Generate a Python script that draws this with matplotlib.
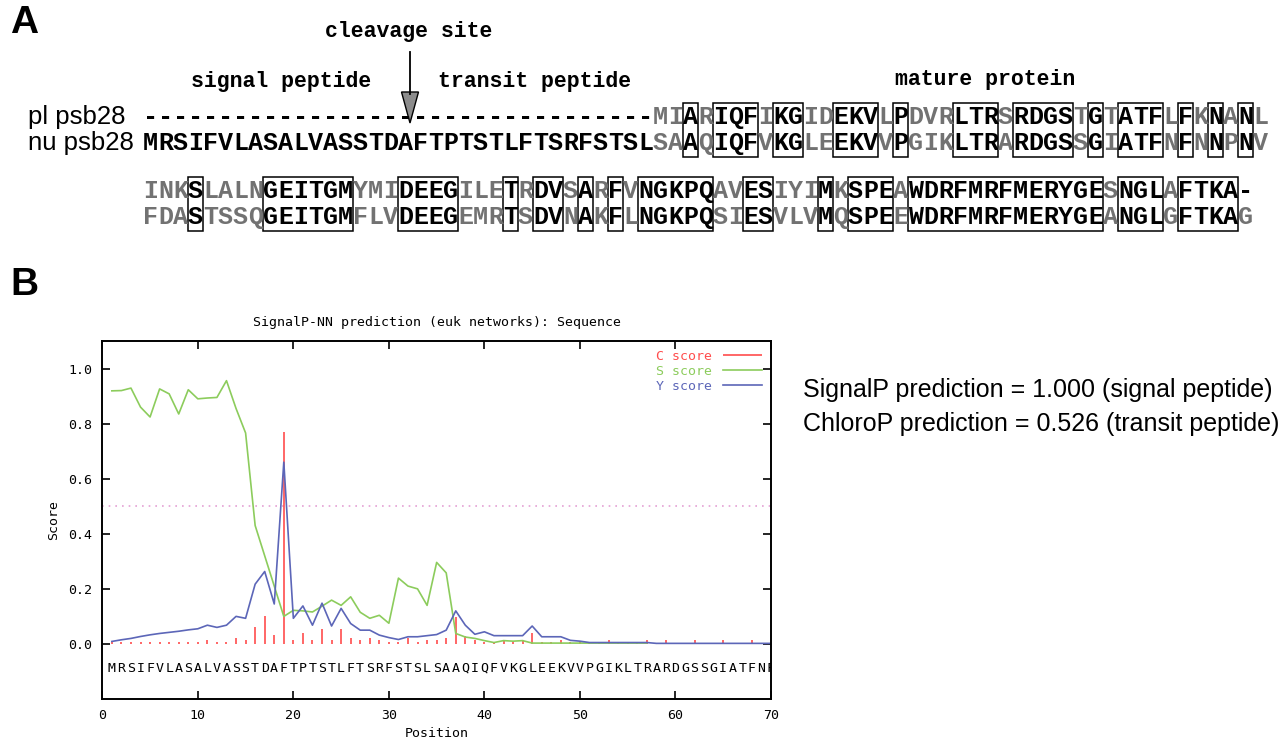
import matplotlib
matplotlib.use('Agg')
import matplotlib.pyplot as plt
import numpy as np
from matplotlib.patches import Rectangle, Polygon

# ---- panel A: alignment of plastid vs nuclear psb28 ----
presequence_len = 34
row1_pl = "-" * 34 + "MIARIQFIKGIDEKVLPDVRLTRSRDGSTGTATFLFKNANL"
row1_nu = "MRSIFVLASALVASSTDAFTPTSTLFTSRFSTSL" + "SAAQIQFVKGLEEKVVPGIKLTRARDGSSGIATFNFNNPNV"
row2_pl = "INKSLALNGEITGMYMIDEEGILETRDVSARFVNGKPQAVESIYIMKSPEAWDRFMRFMERYGESNGLAFTKA-"
row2_nu = "FDASTSSQGEITGMFLVDEEGEMRTSDVNAKFLNGKPQSIESVLVMQSPEEWDRFMRFMERYGEANGLGFTKAG"
row_labels = ["pl psb28", "nu psb28"]
region_labels = ["signal peptide", "transit peptide", "mature protein"]

# ---- panel B: SignalP-NN scores ----
positions = np.arange(1, 71)
c_score = [0.007, 0.007, 0.007, 0.007, 0.007, 0.007, 0.007, 0.007, 0.007, 0.007,
           0.015, 0.007, 0.007, 0.020, 0.013, 0.062, 0.100, 0.032, 0.770, 0.013,
           0.038, 0.013, 0.056, 0.013, 0.056, 0.023, 0.013, 0.020, 0.013, 0.007,
           0.007, 0.020, 0.007, 0.013, 0.016, 0.020, 0.096, 0.028, 0.013, 0.007,
           0.005, 0.011, 0.007, 0.013, 0.041, 0.007, 0.007, 0.013, 0.007, 0.007,
           0.005, 0.005, 0.013, 0.005, 0.005, 0.005, 0.013, 0.005, 0.013, 0.005,
           0.005, 0.013, 0.005, 0.005, 0.013, 0.005, 0.005, 0.013, 0.005, 0.005]
s_score = [0.919, 0.920, 0.929, 0.860, 0.824, 0.926, 0.908, 0.835, 0.923, 0.890,
           0.893, 0.895, 0.956, 0.855, 0.766, 0.430, 0.320, 0.210, 0.100, 0.122,
           0.120, 0.116, 0.137, 0.159, 0.140, 0.171, 0.115, 0.093, 0.104, 0.075,
           0.239, 0.210, 0.200, 0.140, 0.296, 0.258, 0.038, 0.025, 0.020, 0.012,
           0.005, 0.012, 0.010, 0.012, 0.003, 0.003, 0.003, 0.003, 0.003, 0.003,
           0.003, 0.003, 0.003, 0.003, 0.003, 0.003, 0.003]
y_score = [0.009, 0.015, 0.020, 0.027, 0.033, 0.038, 0.042, 0.046, 0.051, 0.055,
           0.068, 0.060, 0.068, 0.100, 0.093, 0.217, 0.263, 0.145, 0.660, 0.093,
           0.138, 0.068, 0.148, 0.065, 0.129, 0.074, 0.050, 0.050, 0.032, 0.023,
           0.016, 0.026, 0.026, 0.030, 0.034, 0.050, 0.120, 0.068, 0.035, 0.044,
           0.030, 0.030, 0.030, 0.030, 0.065, 0.026, 0.026, 0.026, 0.013, 0.010,
           0.005, 0.005, 0.005, 0.005, 0.005, 0.005, 0.005, 0.002, 0.002, 0.002,
           0.002, 0.002, 0.002, 0.002, 0.002, 0.002, 0.002, 0.002, 0.002, 0.002]
plot_sequence = row1_nu[:70]
pred_lines = ["SignalP prediction = 1.000 (signal peptide)",
              "ChloroP prediction = 0.526 (transit peptide)"]

W, H = 1284, 743
fig = plt.figure(figsize=(W / 100, H / 100), dpi=100)

# overlay in pixel coords for the alignment panel and labels
ov = fig.add_axes([0, 0, 1, 1])
ov.set_xlim(0, W)
ov.set_ylim(H, 0)
ov.axis('off')

SANS = 'Liberation Sans'
MONO = 'Liberation Mono'
GRAY = '#727272'

ov.text(10, 23, "A", fontsize=28, fontweight='bold', family=SANS, va='center')
ov.text(10, 285, "B", fontsize=28, fontweight='bold', family=SANS, va='center')

# region headers
ov.text(409, 31, "cleavage site", fontsize=15.5, fontweight='bold', family=MONO,
        ha='center', va='center')
ov.text(281, 82, region_labels[0], fontsize=15.5, fontweight='bold', family=MONO,
        ha='center', va='center')
ov.text(535, 82, region_labels[1], fontsize=15.5, fontweight='bold', family=MONO,
        ha='center', va='center')
ov.text(985, 80, region_labels[2], fontsize=15.5, fontweight='bold', family=MONO,
        ha='center', va='center')
ov.plot([410, 410], [52, 94], color='black', lw=1.3)
ov.add_patch(Polygon([[401.5, 92], [418.5, 92], [410, 123]], closed=True,
                     facecolor='#8c8c8c', edgecolor='black', lw=1))

x0, cw = 143, 15.0
rows = [(row1_pl, row1_nu, 117, 143, True), (row2_pl, row2_nu, 191, 217, False)]
for pl, nu, ypl, ynu, first in rows:
    same = [a == b and a != '-' for a, b in zip(pl, nu)]
    # identity boxes
    i = 0
    while i < len(same):
        if same[i]:
            j = i
            while j + 1 < len(same) and same[j + 1]:
                j += 1
            ov.add_patch(Rectangle((x0 + cw * i, ypl - 14), cw * (j - i + 1),
                                   (ynu - ypl) + 28, fill=False,
                                   edgecolor='black', lw=1.1))
            i = j + 1
        else:
            i += 1
    for k, (a, b) in enumerate(zip(pl, nu)):
        xc = x0 + cw * (k + 0.5)
        ca = 'black' if (same[k] or a == '-') else GRAY
        cb = 'black' if (same[k] or (first and k < presequence_len)) else GRAY
        ov.text(xc, ypl, a, fontsize=18, fontweight='bold', family=MONO,
                color=ca, ha='center', va='center')
        ov.text(xc, ynu, b, fontsize=18, fontweight='bold', family=MONO,
                color=cb, ha='center', va='center')
    if first:
        ov.text(28, ypl, row_labels[0], fontsize=18.5, family=SANS, va='center')
        ov.text(28, ynu, row_labels[1], fontsize=18.5, family=SANS, va='center')

ov.text(803, 390, pred_lines[0], fontsize=18, family=SANS, va='center')
ov.text(803, 424, pred_lines[1], fontsize=18, family=SANS, va='center')

# ---- SignalP plot ----
GP = 'DejaVu Sans Mono'
RED, GREEN, BLUE = '#ff4d4d', '#8ccc5c', '#5c66b8'
left, right, top, bottom = 102.3, 771, 341, 699
ax = fig.add_axes([left / W, 1 - bottom / H, (right - left) / W, (bottom - top) / H])
ax.set_xlim(0, 70)
ax.set_ylim(-0.2, 1.1)

ax.axhline(0.5, color='#e4a0d4', lw=1.2, ls=(0, (1, 3)))
ax.vlines(positions, 0, c_score, color=RED, lw=1.2, label='C score')
ax.plot(positions[:len(s_score)], s_score, color=GREEN, lw=1.2, label='S score')
ax.plot(positions, y_score, color=BLUE, lw=1.2, label='Y score')

for p, ch in zip(positions, plot_sequence):
    ax.text(p, -0.088, ch, fontsize=9.5, family=GP, ha='center', va='center',
            clip_on=True)

ax.set_xticks(range(0, 71, 10))
ax.set_yticks(np.arange(0, 1.01, 0.2))
ax.set_yticklabels([f"{v:.1f}" for v in np.arange(0, 1.01, 0.2)])
ax.tick_params(direction='in', top=True, right=True, length=6, width=1.2,
               labelsize=9.5, pad=7)
for lab in ax.get_xticklabels() + ax.get_yticklabels():
    lab.set_family(GP)
for sp in ax.spines.values():
    sp.set_linewidth(1.4)

ax.set_title("SignalP-NN prediction (euk networks): Sequence", family=GP,
             fontsize=9.5, pad=11)
ax.set_xlabel("Position", family=GP, fontsize=9.5, labelpad=4)
ax.set_ylabel("Score", family=GP, fontsize=9.5, labelpad=6)

leg = ax.legend(loc='upper right', frameon=False, markerfirst=False,
                handlelength=3.0, prop={'family': GP, 'size': 9.5},
                labelspacing=0.15, borderaxespad=0.25, handletextpad=0.8)
for txt, col in zip(leg.get_texts(), [RED, GREEN, BLUE]):
    txt.set_color(col)

fig.savefig('out.png', dpi=100)
